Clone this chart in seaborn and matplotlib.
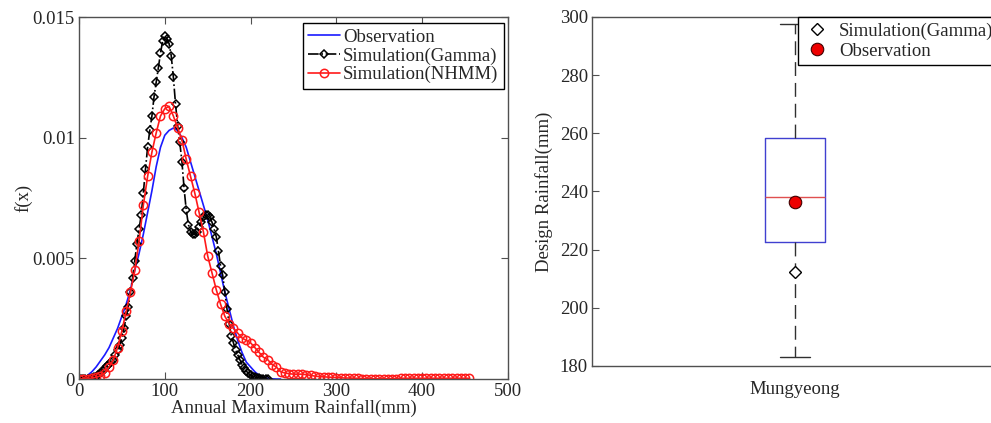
import numpy as np
import pandas as pd
import matplotlib
matplotlib.use("Agg")
import matplotlib.pyplot as plt
import seaborn as sns

sns.set_theme(style="white")
plt.rcParams['font.family'] = ['Liberation Serif', 'DejaVu Serif']

# ---------------- data: left panel (PDF curves) ----------------
obs_x = np.arange(0, 235.1, 5)
obs_y = [0.00002, 0.00006, 0.00015, 0.0003, 0.0005, 0.00075, 0.001, 0.0013, 0.0017, 0.0021,
         0.0026, 0.0031, 0.0037, 0.0045, 0.0052, 0.006, 0.0069, 0.0078, 0.0088, 0.0096,
         0.0101, 0.0103, 0.0104, 0.0103, 0.01, 0.0096, 0.009, 0.0084, 0.0078, 0.0072,
         0.0066, 0.0059, 0.0052, 0.0044, 0.0036, 0.0029, 0.0022, 0.0016, 0.0011, 0.0007,
         0.0005, 0.0003, 0.00015, 0.00007, 0.00003, 0.00001, 0.0, 0.0]

gam_x = np.arange(0, 220.1, 2.5)
gam_y = [0, 0, 0, 0, 0.00001, 0.00002, 0.00004, 0.00007, 0.0001, 0.00017,
         0.00026, 0.00035, 0.00044, 0.00053, 0.00062, 0.0007, 0.0008, 0.001, 0.0012, 0.0014,
         0.0017, 0.0021, 0.0026, 0.003, 0.0036, 0.0042, 0.0049, 0.0056, 0.0062, 0.0068,
         0.0077, 0.0087, 0.0096, 0.0103, 0.0109, 0.0117, 0.0123, 0.0129, 0.0135, 0.014,
         0.0142, 0.0141, 0.0139, 0.0134, 0.0125, 0.0114, 0.0105, 0.0098, 0.009, 0.0079,
         0.007, 0.0064, 0.0061, 0.006, 0.006, 0.0061, 0.0063, 0.0065, 0.0067, 0.0068,
         0.0068, 0.0067, 0.0065, 0.0062, 0.0059, 0.0053, 0.0047, 0.0043, 0.0036, 0.0029,
         0.0023, 0.0018, 0.0015, 0.0012, 0.001, 0.0008, 0.0006, 0.00045, 0.00033, 0.00023,
         0.00015, 0.0001, 0.00007, 0.00005, 0.00003, 0.00002, 0.00001, 0, 0]

nhmm_x = np.arange(0, 455.1, 5)
nhmm_y = [0, 0.00001, 0.00002, 0.00004, 0.00007, 0.00013, 0.00025, 0.0005, 0.0008, 0.0013,
          0.002, 0.0028, 0.0036, 0.0045, 0.0057, 0.0072, 0.0084, 0.0094, 0.0102, 0.0109,
          0.0112, 0.0113, 0.0109, 0.0104, 0.0099, 0.0091, 0.0084, 0.0077, 0.0069, 0.0061,
          0.0051, 0.0044, 0.0037, 0.0031, 0.0026, 0.0023, 0.0021, 0.0019, 0.0017, 0.0016,
          0.0015, 0.0013, 0.0011, 0.0009, 0.0008, 0.0006, 0.0005, 0.0003, 0.00025, 0.00022,
          0.0002, 0.0002, 0.0002, 0.00018, 0.00015, 0.00012, 0.0001, 0.00009, 0.00008, 0.00007,
          0.00006, 0.00005, 0.00004, 0.00004, 0.00003, 0.00003, 0.00002, 0.00002, 0.00001, 0.00001,
          0.00001, 0.00001, 0.00001, 0.00002, 0.00002, 0.00003, 0.00003, 0.00003, 0.00003, 0.00003,
          0.00003, 0.00003, 0.00003, 0.00003, 0.00003, 0.00003, 0.00003, 0.00003, 0.00003, 0.00003,
          0.00003, 0.00003]

x_ticks = [0, 100, 200, 300, 400, 500]
y_ticks = [0, 0.005, 0.01, 0.015]
y_ticklabels = ['0', '0.005', '0.01', '0.015']

# ---------------- data: right panel (box plot) ----------------
station = 'Mungyeong'
box_vals = [183.0, 222.7, 238.0, 258.5, 297.5]   # min, q1, median, q3, max
gamma_design = 212.4
obs_design = 236.3
r_ticks = [180, 200, 220, 240, 260, 280, 300]

# ---------------- figure ----------------
W, H = 991, 423
fig = plt.figure(figsize=(W / 100, H / 100), dpi=100)
fs = 13.5
spine_c = '#505050'

ax1 = fig.add_axes([0.0797, 0.104, 0.4329, 0.8558])
sns.lineplot(x=obs_x, y=obs_y, ax=ax1, color='#1a1aff', lw=1.2, label='Observation',
             estimator=None, sort=False)
sns.lineplot(x=gam_x, y=gam_y, ax=ax1, color='black', lw=1.2, linestyle='-.',
             marker='D', markersize=4.5, markerfacecolor='none', markeredgecolor='black',
             markeredgewidth=1.1, label='Simulation(Gamma)', estimator=None, sort=False)
sns.lineplot(x=nhmm_x, y=nhmm_y, ax=ax1, color='#ff1a1a', lw=1.2,
             marker='o', markersize=6, markerfacecolor='none', markeredgecolor='#ff1a1a',
             markeredgewidth=1.1, label='Simulation(NHMM)', estimator=None, sort=False)
ax1.set_xlim(0, 500)
ax1.set_ylim(0, 0.015)
ax1.set_xticks(x_ticks)
ax1.set_xticklabels([str(t) for t in x_ticks])
ax1.set_yticks(y_ticks)
ax1.set_yticklabels(y_ticklabels)
ax1.set_xlabel('Annual Maximum Rainfall(mm)', fontsize=fs, labelpad=-1)
ax1.set_ylabel('f(x)', fontsize=fs, labelpad=0)
ax1.tick_params(direction='in', length=5, width=0.8, color=spine_c, labelsize=fs,
                top=True, right=True, bottom=True, left=True, pad=3)
for s in ax1.spines.values():
    s.set_color(spine_c)
    s.set_linewidth(1.0)
leg1 = ax1.legend(loc='upper right', bbox_to_anchor=(504 / W, 1 - 23 / H),
                  bbox_transform=fig.transFigure, borderaxespad=0.0,
                  fontsize=fs, frameon=True, fancybox=False,
                  edgecolor='black', framealpha=1, numpoints=1, handlelength=1.7,
                  borderpad=0.3, labelspacing=0.08, handletextpad=0.15)
leg1.get_frame().set_linewidth(1.0)

# right panel
ax2 = fig.add_axes([0.5974, 0.1348, 0.4097, 0.8251])
df_box = pd.DataFrame({'station': [station] * len(box_vals), 'val': box_vals})
sns.boxplot(data=df_box, x='station', y='val', ax=ax2, whis=(0, 100), width=0.15,
            fill=False, linewidth=1.0,
            boxprops=dict(color='#4040d0', linewidth=1.0),
            medianprops=dict(color='#e05050', linewidth=1.0),
            whiskerprops=dict(color='#303030', linewidth=1.0, linestyle=(0, (10, 5))),
            capprops=dict(color='#303030', linewidth=1.0))
ax2.plot([0], [gamma_design], linestyle='none', marker='D', markersize=6,
         markerfacecolor='white', markeredgecolor='black', markeredgewidth=1.0,
         zorder=5, label='Simulation(Gamma)')
ax2.plot([0], [obs_design], linestyle='none', marker='o', markersize=9,
         markerfacecolor='#ee0000', markeredgecolor='#400000', markeredgewidth=0.8,
         zorder=6, label='Observation')
ax2.set_xlim(-0.5, 0.5)
ax2.set_ylim(180, 300)
ax2.set_yticks(r_ticks)
ax2.set_yticklabels([str(t) for t in r_ticks])
ax2.set_xlabel('')
ax2.set_ylabel('Design Rainfall(mm)', fontsize=fs, labelpad=5)
ax2.tick_params(axis='y', direction='in', length=5, width=0.8, color=spine_c,
                labelsize=fs, left=True, right=True, pad=3)
ax2.tick_params(axis='x', length=0, labelsize=fs, pad=11)
for s in ax2.spines.values():
    s.set_color(spine_c)
    s.set_linewidth(1.0)
leg2 = ax2.legend(loc='upper left', bbox_to_anchor=(798 / W, 1 - 17 / H),
                  bbox_transform=fig.transFigure, borderaxespad=0.0,
                  fontsize=fs, frameon=True, fancybox=False,
                  edgecolor='black', framealpha=1, numpoints=1, handlelength=1.4,
                  borderpad=0.3, labelspacing=0.15, handletextpad=0.5)
leg2.get_frame().set_linewidth(1.0)

fig.savefig('out.png', dpi=100)
